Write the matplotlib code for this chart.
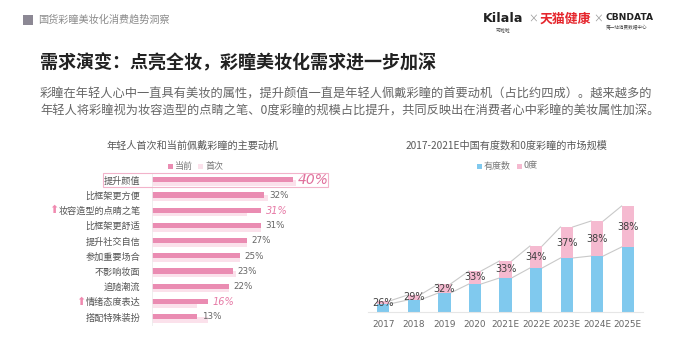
import numpy as np
import matplotlib
matplotlib.use('Agg')
import matplotlib.pyplot as plt
from matplotlib.patches import Rectangle

plt.rcParams['font.family'] = ['Noto Sans CJK SC', 'DejaVu Sans']

W, H = 699, 350

# left chart data (%)
motives = ['提升颜值', '比框架更方便', '妆容造型的点睛之笔', '比框架更舒适', '提升社交自信',
           '参加重要场合', '不影响妆面', '追随潮流', '情绪态度表达', '搭配特殊装扮']
current = [40, 32, 31, 31, 27, 25, 23, 22, 16, 13]
first = [41, 33, 27, 31, 27, 25, 24, 22, 13, 16]
rising = [2, 8]  # rows marked with up arrow

# right chart data
years = ['2017', '2018', '2019', '2020', '2021E', '2022E', '2023E', '2024E', '2025E']
degree = [8, 12, 19, 28, 34, 44, 54, 56, 65]
zero = [3, 5, 9, 13, 17, 22, 31, 35, 41]
zero_share = ['26%', '29%', '32%', '33%', '33%', '34%', '37%', '38%', '38%']

c_cur = '#ea8cb2'
c_first = '#fbe1eb'
c_blue = '#80c9ee'
c_pink = '#f5bad0'


def fx(x):
    return x / W


def fy(y):
    return 1 - y / H


fig = plt.figure(figsize=(W / 100, H / 100), dpi=100)
fig.patch.set_facecolor('white')

# header
fig.patches.append(Rectangle((fx(23), fy(25)), 10 / W, 10 / H, transform=fig.transFigure,
                             facecolor='#8c8894', edgecolor='none'))
fig.text(fx(38), fy(20), '国货彩瞳美妆化消费趋势洞察', fontsize=7.3, color='#8a8a8a', va='center')

# logos (text stand-ins)
fig.text(fx(483), fy(19), 'Kilala', fontsize=9.2, fontweight='bold', color='#222222',
         va='center', family='DejaVu Sans')
fig.text(fx(503), fy(30), '可啦啦', fontsize=3.5, color='#444444', va='center', ha='center')
fig.text(fx(533), fy(19), '×', fontsize=7, color='#999999', va='center', ha='center')
fig.text(fx(540), fy(19), '天猫健康', fontsize=9.3, fontweight='bold', color='#e5252c', va='center')
fig.text(fx(598), fy(19), '×', fontsize=7, color='#999999', va='center', ha='center')
fig.text(fx(605), fy(17), 'CBNDATA', fontsize=6.6, fontweight='bold', color='#222222',
         va='center', family='DejaVu Sans')
fig.text(fx(627), fy(28), '第一站消费数据中心', fontsize=3.3, color='#444444', va='center', ha='center')

# title and text
fig.text(fx(40), fy(63), '需求演变：点亮全妆，彩瞳美妆化需求进一步加深', fontsize=13,
         fontweight='bold', color='#222222', va='center')
fig.text(fx(40), fy(94), '彩瞳在年轻人心中一直具有美妆的属性，提升颜值一直是年轻人佩戴彩瞳的首要动机（占比约四成）。越来越多的',
         fontsize=8.8, color='#666666', va='center')
fig.text(fx(40), fy(111), '年轻人将彩瞳视为妆容造型的点睛之笔、0度彩瞳的规模占比提升，共同反映出在消费者心中彩瞳的美妆属性加深。',
         fontsize=8.8, color='#666666', va='center')

# ---------- left chart ----------
fig.text(fx(193), fy(146), '年轻人首次和当前佩戴彩瞳的主要动机', fontsize=7.3, color='#595959',
         va='center', ha='center')
fig.patches.append(Rectangle((fx(168), fy(168.5)), 5 / W, 5 / H, transform=fig.transFigure,
                             facecolor=c_cur, edgecolor='none'))
fig.text(fx(175), fy(166), '当前', fontsize=6.5, color='#777777', va='center')
fig.patches.append(Rectangle((fx(198), fy(168.5)), 5 / W, 5 / H, transform=fig.transFigure,
                             facecolor=c_first, edgecolor='none'))
fig.text(fx(205), fy(166), '首次', fontsize=6.5, color='#777777', va='center')

axl = fig.add_axes([fx(151.5), fy(324.5), 176.5 / W, 152 / H])
yy = np.arange(len(motives))
axl.barh(yy + 0.2, first, height=0.38, color=c_first, zorder=1)
axl.barh(yy - 0.02, current, height=0.33, color=c_cur, zorder=2)
axl.set_xlim(0, 50)
axl.set_ylim(len(motives) - 0.5, -0.5)
axl.set_yticks(yy)
axl.set_yticklabels(motives, fontsize=6.6, color='#555555')
axl.tick_params(axis='y', length=0, pad=8)
axl.set_xticks([])
for s in ['top', 'right', 'bottom']:
    axl.spines[s].set_visible(False)
axl.spines['left'].set_color('#ececec')
axl.spines['left'].set_linewidth(0.6)
for i, v in enumerate(current):
    if i == 0:
        axl.text(v + 1.3, i, f'{v}%', fontsize=10, style='italic', color='#e0709c',
                 va='center', family='DejaVu Sans')
    elif i in rising:
        axl.text(v + 1.3, i, f'{v}%', fontsize=7, style='italic', color='#e67aa6',
                 va='center', family='DejaVu Sans')
    else:
        axl.text(v + 1.3, i, f'{v}%', fontsize=6.3, color='#666666', va='center',
                 family='DejaVu Sans')

# highlight box around top row
fig.patches.append(Rectangle((fx(103), fy(187)), 225 / W, 14 / H, transform=fig.transFigure,
                             facecolor='none', edgecolor='#f2b3ca', linewidth=0.8, zorder=5))

# up arrows
for px, row in [(54, 2), (81, 8)]:
    py = 180 + row * 15.2
    fig.text(fx(px), fy(py), '⬆', fontsize=8, color='#f08ab0', va='center', ha='center',
             family='DejaVu Sans')

# ---------- right chart ----------
fig.text(fx(506), fy(146), '2017-2021E中国有度数和0度彩瞳的市场规模', fontsize=7.3,
         color='#595959', va='center', ha='center')
fig.patches.append(Rectangle((fx(477), fy(168.5)), 5 / W, 5 / H, transform=fig.transFigure,
                             facecolor=c_blue, edgecolor='none'))
fig.text(fx(484), fy(166), '有度数', fontsize=6.5, color='#777777', va='center')
fig.patches.append(Rectangle((fx(517), fy(168.5)), 5 / W, 5 / H, transform=fig.transFigure,
                             facecolor=c_pink, edgecolor='none'))
fig.text(fx(524), fy(166), '0度', fontsize=6.5, color='#777777', va='center')

axr = fig.add_axes([fx(368), fy(312), 275 / W, 120 / H])
x = np.arange(len(years))
bw = 0.4
total = np.array(degree) + np.array(zero)
axr.bar(x, degree, width=bw, color=c_blue, zorder=2)
axr.bar(x, zero, width=bw, bottom=degree, color=c_pink, zorder=2)
for i in range(len(years) - 1):
    axr.plot([x[i] + bw / 2, x[i + 1] - bw / 2], [degree[i], degree[i + 1]],
             color='#c9c9c9', lw=0.8, zorder=1)
    axr.plot([x[i] + bw / 2, x[i + 1] - bw / 2], [total[i], total[i + 1]],
             color='#c9c9c9', lw=0.8, zorder=1)
for i, lab in enumerate(zero_share):
    axr.text(x[i], degree[i] + zero[i] / 2, lab, fontsize=7, color='#404040',
             ha='center', va='center', zorder=3, family='DejaVu Sans')
axr.set_xlim(-0.5, len(years) - 0.5)
axr.set_ylim(0, 120)
axr.set_xticks(x)
axr.set_xticklabels(years, fontsize=6.4, color='#666666', family='DejaVu Sans')
axr.tick_params(axis='x', length=0, pad=6)
axr.set_yticks([])
for s in ['top', 'right', 'left']:
    axr.spines[s].set_visible(False)
axr.spines['bottom'].set_color('#e6e6e6')
axr.spines['bottom'].set_linewidth(0.8)
axr.patch.set_alpha(0)

fig.savefig('out.png', dpi=100, facecolor='white')
